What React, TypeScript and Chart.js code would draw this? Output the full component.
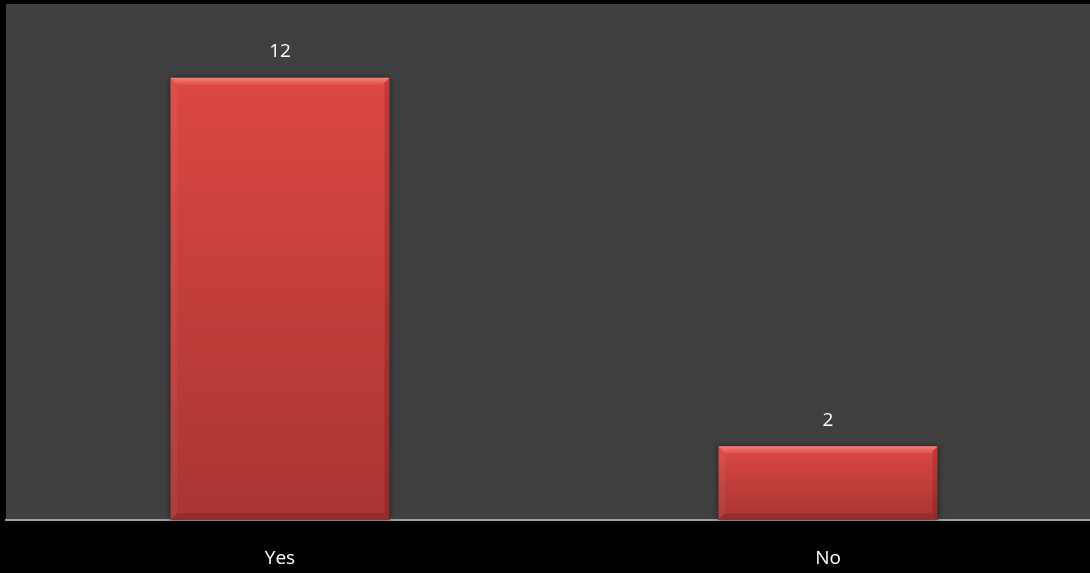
import React, { useEffect, useRef } from "react";
import { Chart, registerables } from "chart.js";

Chart.register(...registerables);

const categories = ["Yes", "No"];
const counts = [12, 2];
const yMax = 14;

const BG = "#000000";
const PLOT_BG = "#404040";
const FONT = "'Open Sans', 'DejaVu Sans', sans-serif";

const bgPlugin = {
  id: "bgPlugin",
  beforeDraw(chart: any) {
    const { ctx, chartArea } = chart;
    ctx.save();
    ctx.fillStyle = BG;
    ctx.fillRect(0, 0, chart.width, chart.height);
    ctx.fillStyle = PLOT_BG;
    ctx.fillRect(chartArea.left, chartArea.top, chartArea.right - chartArea.left, chartArea.bottom - chartArea.top);
    ctx.restore();
  },
  beforeDatasetsDraw(chart: any) {
    const { ctx } = chart;
    const meta = chart.getDatasetMeta(0);
    ctx.save();
    meta.data.forEach((bar: any) => {
      const x0 = bar.x - bar.width / 2;
      const x1 = bar.x + bar.width / 2;
      const y0 = bar.y;
      const yb = bar.base;
      ctx.shadowColor = "rgba(0,0,0,0.75)";
      ctx.shadowBlur = 6;
      ctx.fillStyle = "rgba(0,0,0,0.6)";
      ctx.fillRect(x0, y0, x1 - x0, yb - y0);
    });
    ctx.restore();
  },
  afterDatasetsDraw(chart: any) {
    const { ctx } = chart;
    const meta = chart.getDatasetMeta(0);
    ctx.save();
    meta.data.forEach((bar: any, i: number) => {
      const x0 = bar.x - bar.width / 2;
      const x1 = bar.x + bar.width / 2;
      const y0 = bar.y;
      const yb = bar.base;
      const b = 7;
      const poly = (pts: number[][], fill: any) => {
        ctx.beginPath();
        ctx.moveTo(pts[0][0], pts[0][1]);
        for (let k = 1; k < pts.length; k++) ctx.lineTo(pts[k][0], pts[k][1]);
        ctx.closePath();
        ctx.fillStyle = fill;
        ctx.fill();
      };
      const gTop = ctx.createLinearGradient(0, y0, 0, y0 + b);
      gTop.addColorStop(0, "rgba(255,150,145,0.75)");
      gTop.addColorStop(1, "rgba(255,120,115,0.25)");
      poly([[x0, y0], [x1, y0], [x1 - b, y0 + b], [x0 + b, y0 + b]], gTop);
      poly([[x0, y0], [x0 + b, y0 + b], [x0 + b, yb - b], [x0, yb]], "rgba(255,255,255,0.05)");
      poly([[x1, y0], [x1, yb], [x1 - b + 2, yb - b + 2], [x1 - b + 2, y0 + b - 2]], "rgba(0,0,0,0.14)");
      poly([[x0, yb], [x1, yb], [x1 - b, yb - b], [x0 + b, yb - b]], "rgba(0,0,0,0.12)");

      ctx.fillStyle = "#ffffff";
      ctx.font = "19px " + FONT;
      ctx.textAlign = "center";
      ctx.textBaseline = "middle";
      ctx.fillText(String(counts[i]), bar.x, y0 - 26);
    });
    ctx.restore();
  },
};

export default function App() {
  const ref = useRef<HTMLCanvasElement | null>(null);
  useEffect(() => {
    document.body.style.margin = "0";
    document.body.style.overflow = "hidden";
    document.body.style.background = BG;
    const chart = new Chart(ref.current as HTMLCanvasElement, {
      type: "bar",
      data: {
        labels: categories,
        datasets: [
          {
            data: counts,
            barPercentage: 0.8,
            categoryPercentage: 0.5,
            borderWidth: 0,
            backgroundColor: (ctx: any) => {
              const chart = ctx.chart;
              const ys = chart.scales.y;
              if (!ys || ctx.parsed == null) return "#d24440";
              const top = ys.getPixelForValue(ctx.parsed.y);
              const base = ys.getPixelForValue(0);
              if (!isFinite(top) || !isFinite(base) || top === base) return "#d24440";
              const g = chart.ctx.createLinearGradient(0, top, 0, base);
              g.addColorStop(0, "#dc4743");
              g.addColorStop(1, "#a83532");
              return g;
            },
          },
        ],
      },
      options: {
        responsive: false,
        animation: false,
        layout: { padding: { left: 6, top: 4, right: 0, bottom: 0 } },
        plugins: { legend: { display: false }, tooltip: { enabled: false } },
        scales: {
          x: {
            grid: { display: false, drawTicks: false },
            border: { display: true, color: "#a0a0a0", width: 2 },
            ticks: {
              color: "#ffffff",
              padding: 27,
              font: { family: FONT, size: 19 },
            },
            afterFit: (scale: any) => {
              scale.height = 53;
            },
          },
          y: {
            display: false,
            min: 0,
            max: yMax,
          },
        },
      },
      plugins: [bgPlugin],
    });
    return () => chart.destroy();
  }, []);
  return (
    <div style={{ width: 1090, height: 573, overflow: "hidden", position: "fixed", left: 0, top: 0, background: BG }}>
      <canvas ref={ref} width={1102} height={573} style={{ display: "block" }} />
    </div>
  );
}
